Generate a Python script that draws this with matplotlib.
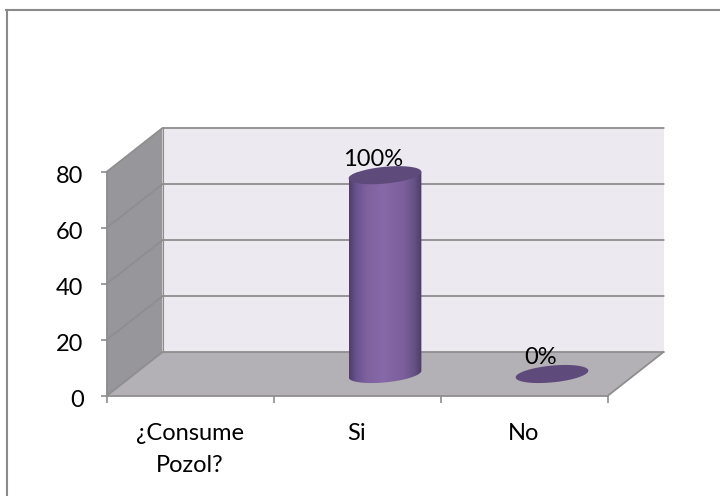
import numpy as np
import matplotlib
matplotlib.use("Agg")
import matplotlib.pyplot as plt
from matplotlib.colors import LinearSegmentedColormap
from matplotlib.lines import Line2D
from matplotlib.patches import PathPatch, Polygon
from matplotlib.path import Path
from matplotlib.transforms import ScaledTranslation

plt.rcParams["font.family"] = ["Lato", "DejaVu Sans"]

categories = ["¿Consume\nPozol?", "Si", "No"]
values = [71, 0]
bar_positions = [1.5, 2.5]
y_ticks = [0, 20, 40, 60, 80]

W, H = 720, 496
left, right, bottom, top = 106.5, 607.5, 396, 172
depth_px = (56, 44)
font_size = 17

fig = plt.figure(figsize=(W / 100, H / 100), dpi=100)
ax = fig.add_axes([left / W, 1 - bottom / H, (right - left) / W, (bottom - top) / H])
ax.set_xlim(0, 3)
ax.set_ylim(0, 80)

# pixel sizes expressed in axis units
ux = 3 / (right - left)
uy = 80 / (bottom - top)
dx = depth_px[0] * ux
dy = depth_px[1] * uy

line_col = "#8e8e8e"

# back wall, side wall, floor of the 3d box
ax.add_patch(Polygon([(dx, dy), (3 + dx, dy), (3 + dx, 80 + dy), (dx, 80 + dy)],
                     fc="#eceaf0", ec="none", zorder=1, clip_on=False))
ax.add_patch(Polygon([(0, 0), (dx, dy), (dx, 80 + dy), (0, 80)],
                     fc="#97969a", ec="none", zorder=1, clip_on=False))
ax.add_patch(Polygon([(0, 0), (3, 0), (3 + dx, dy), (dx, dy)],
                     fc="#b3b1b5", ec="none", zorder=1, clip_on=False))

# gridlines run along the back wall and down the side wall
for t in y_ticks:
    ax.plot([0, dx, 3 + dx], [t, t + dy, t + dy], color=line_col, lw=1.3,
            zorder=2, clip_on=False, solid_joinstyle="miter")
ax.plot([dx, dx], [dy, 80 + dy], color=line_col, lw=0.8, zorder=2, clip_on=False)
ax.plot([3, 3 + dx], [0, dy], color=line_col, lw=1.3, zorder=2, clip_on=False)

# cylinders stand at mid depth of the floor
shade = LinearSegmentedColormap.from_list(
    "cyl", [(0, "#4f3e6a"), (0.1, "#6a5390"), (0.25, "#7f62a0"), (0.47, "#8768a8"),
            (0.75, "#7c5f9c"), (0.9, "#665284"), (1, "#4c3c66")])
half_w = 36.5 * ux
minor = 8.5
tilt = np.radians(5)
t_ang = np.linspace(0, 2 * np.pi, 121)


def ring(cx, cy):
    ex = 36.5 * np.cos(t_ang) * np.cos(tilt) + minor * np.sin(t_ang) * np.sin(tilt)
    ey = 36.5 * np.cos(t_ang) * np.sin(tilt) + minor * np.sin(t_ang) * np.cos(tilt)
    return cx + ex * ux, cy + ey * uy


total = sum(values)
for pos, val in zip(bar_positions, values):
    cx = pos + dx / 2
    cy = dy / 2
    if val > 0:
        bx, by = ring(cx, cy)
        tx, ty = ring(cx, cy + val)
        lower = t_ang > np.pi
        order = np.argsort(bx[lower])
        verts = list(zip(bx[lower][order], by[lower][order]))
        upper = t_ang <= np.pi
        order2 = np.argsort(-tx[upper])
        verts += list(zip(tx[upper][order2], ty[upper][order2]))
        verts.append(verts[0])
        body = PathPatch(Path(verts), fc="none", ec="none", zorder=3)
        ax.add_patch(body)
        im = ax.imshow(np.linspace(0, 1, 200).reshape(1, -1), cmap=shade, aspect="auto",
                       extent=[cx - half_w, cx + half_w, cy - 12 * uy, cy + val + 12 * uy],
                       zorder=3)
        im.set_clip_path(body)
    tx, ty = ring(cx, cy + val)
    ax.fill(tx, ty, color="#5f4a7c", zorder=4, lw=0, clip_on=False)
    ax.text(cx - 11.5 * ux, cy + val + 16 * uy, f"{100 * val / total:.0f}%", ha="center",
            va="center", fontsize=font_size, color="black", zorder=5)

ax.set_xlim(0, 3)
ax.set_ylim(0, 80)

for s in ax.spines.values():
    s.set_visible(False)
ax.spines["left"].set_visible(True)
ax.spines["bottom"].set_visible(True)
ax.spines["left"].set_color(line_col)
ax.spines["bottom"].set_color(line_col)
ax.spines["left"].set_linewidth(1.3)
ax.spines["bottom"].set_linewidth(1.3)
ax.patch.set_visible(False)

ax.set_yticks(y_ticks)
ax.tick_params(axis="y", length=4.5, width=1.2, color=line_col, labelsize=font_size, pad=12)
# nudge the numbers slightly below their ticks
nudge = ScaledTranslation(0, -2.5 / 100, fig.dpi_scale_trans)
for lab in ax.get_yticklabels():
    lab.set_transform(lab.get_transform() + nudge)

ax.set_xticks([0, 1, 2, 3])
ax.set_xticklabels([])
ax.tick_params(axis="x", which="major", length=5, width=1.2, color=line_col)
ax.set_xticks([0.5, 1.5, 2.5], minor=True)
ax.set_xticklabels(categories, minor=True, fontsize=font_size, linespacing=1.62)
ax.tick_params(axis="x", which="minor", length=0, pad=19.5)

# outer border only shows along the top and left edges
fig.add_artist(Line2D([7 / W, 7 / W], [0, 1 - 10 / H], color="#8a8a8a", lw=1.5))
fig.add_artist(Line2D([6 / W, 1], [1 - 10 / H, 1 - 10 / H], color="#8a8a8a", lw=1.5))

fig.savefig("out.png", dpi=100, facecolor="white")
